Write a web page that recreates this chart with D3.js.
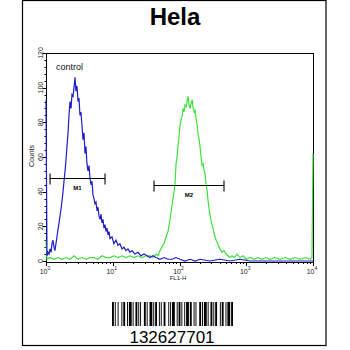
<!DOCTYPE html>
<html>
<head>
<meta charset="utf-8">
<script src="https://cdn.jsdelivr.net/npm/d3@7/dist/d3.min.js"></script>
<style>
  html, body { margin: 0; padding: 0; background: #fff; }
  svg { display: block; font-family: Arial, "Liberation Sans", sans-serif; }
</style>
</head>
<body>
<svg id="chart" width="350" height="350"></svg>
<script>
// Flow cytometry histogram, FL1-H (log scale) vs event counts.
const title = "Hela";
const xLabel = "FL1-H";
const yLabel = "Counts";
const sampleCode = "132627701";

// Control sample (blue): FL1-H value, counts
const controlFL1 = [1.00,1.035,1.07,1.11,1.15,1.19,1.23,1.27,1.32,1.36,1.41,1.46,1.51,1.57,1.62,1.68,1.74,1.80,1.86,1.93,1.99,2.06,2.14,2.21,2.29,2.37,2.45,2.54,2.63,2.72,2.81,2.91,3.02,3.12,3.23,3.34,3.46,3.58,3.71,3.84,3.97,4.11,4.26,4.41,4.56,4.72,4.89,5.06,5.24,5.42,5.61,5.81,6.01,6.22,6.44,6.67,6.90,7.14,7.39,7.66,7.92,8.20,8.49,8.79,9.10,9.75,10.4,11.2,12.0,12.8,13.8,14.7,15.8,16.9,18.1,19.4,21.5,23.9,26.5,29.4,32.6,36.1,40.1,44.5,51.0,58.6,67.3,77.2,88.7,102,121,144,171,203,286,404,571,806,1140,2270,4520,10000];
const controlCounts = [93,3,5,4,7,5,10,12,8,6,10,14,18,22,26,30,35,40,46,52,58,66,74,84,92,88,96,95,100,106,98,101,92,94,84,86,78,70,74,62,66,56,52,55,48,44,46,38,36,33,34,29,31,26,24,27,22,24,19,21,17,19,15,17,13,14,10,12,9,10,7,8,6,7,5,6,4,5,3,4,3,2,3,2,1,2,1,1,2,1,0,1,0,1,0,1,0,1,0,0,0,0];

// Antibody-stained sample (green): FL1-H value, counts
const stainedFL1 = [1.00,1.035,1.15,1.32,1.51,1.74,1.99,2.29,2.63,3.02,3.46,3.97,4.56,5.24,6.01,6.90,7.92,9.10,10.4,12.0,13.8,15.8,18.1,20.8,23.9,27.4,31.4,36.1,40.1,44.5,47.6,51.0,54.6,58.6,62.8,67.3,72.1,77.2,82.8,85.7,88.7,91.9,95.2,98.6,102,106,110,113,117,121,126,130,134,139,144,149,155,160,166,171,178,184,190,197,203,211,218,226,234,242,251,260,269,278,286,297,307,318,330,341,353,366,379,392,404,434,464,497,533,571,611,657,729,806,895,1000,1140,1300,1490,1710,1970,2270,2690,3210,3820,4520,5400,6420,7640,9100,9660,10000];
const stainedCounts = [12,1,2,1,2,1,2,1,3,1,2,1,2,2,1,3,2,2,3,2,3,2,3,2,3,2,3,3,2,4,3,6,8,10,14,17,24,32,40,45,56,60,67,72,78,82,84,88,86,90,89,92,95,90,88,91,93,88,86,87,82,78,73,70,66,60,55,56,52,50,44,40,34,30,27,23,21,19,16,14,12,11,9,8,7,5,6,4,3,2,3,2,4,2,3,1,2,1,2,1,2,1,2,1,2,1,2,1,2,1,2,62];

// Marker gates: name, FL1-H start, FL1-H end, count level
const markerNames = ["M1", "M2"];
const markerStart = [1.15, 41.5];
const markerEnd = [7.66, 464];
const markerLevel = [48, 44];

const yTicks = [0, 20, 40, 60, 80, 100, 120];
const xTickExponents = [0, 1, 2, 3, 4];
const sampleNote = "control";

// Barcode bar/space widths in modules, alternating bar, space
const barcodeModules = [2,1,1,2,1,3,1,1,2,2,1,1,3,1,1,2,2,1,1,1,1,3,2,1,1,2,3,1,1,1,2,2,1,1,1,2,2,3,1,1,1,1,3,2,1,1,2,1,1,2,1,1,3,1,2,2,1,1,1,3,2,1,1,1,3,1,1,2,2,1,1,1,2,3,1,1,2,2,1,1,3,1,2];

const svg = d3.select("#chart");

// Outer frame
svg.append("rect")
  .attr("x", 22.5).attr("y", 0.5).attr("width", 303.5).attr("height", 345)
  .attr("fill", "none").attr("stroke", "#000").attr("stroke-width", 1.2);

svg.append("text")
  .attr("x", 175).attr("y", 25)
  .attr("text-anchor", "middle")
  .attr("font-size", 24).attr("font-weight", "bold")
  .text(title);

const plot = { left: 46, right: 313, top: 53, bottom: 261 };

const x = d3.scaleLog().domain([1, 10000]).range([plot.left, plot.right]);
const y = d3.scaleLinear().domain([0, 120]).range([plot.bottom, plot.top]);

const g = svg.append("g");

// Plot box
g.append("rect")
  .attr("x", plot.left + 0.5).attr("y", plot.top + 0.5)
  .attr("width", plot.right - plot.left).attr("height", plot.bottom - plot.top + 1)
  .attr("fill", "none").attr("stroke", "#000").attr("stroke-width", 1);

// Y axis: major ticks every 20, minor every 4
const yMinor = d3.range(0, 121, 4);
g.selectAll(".ymin").data(yMinor).join("line")
  .attr("x1", plot.left + 0.5).attr("x2", d => plot.left + 0.5 - (d % 20 === 0 ? 4 : 2))
  .attr("y1", d => Math.round(y(d)) + 0.5).attr("y2", d => Math.round(y(d)) + 0.5)
  .attr("stroke", "#000").attr("stroke-width", 1);

g.selectAll(".ylab").data(yTicks).join("text")
  .attr("transform", d => `translate(${plot.left - 3},${y(d)}) rotate(-90)`)
  .attr("text-anchor", "middle")
  .attr("font-size", 7)
  .attr("fill", "#222")
  .text(d => d);

svg.append("text")
  .attr("transform", `translate(34,156) rotate(-90)`)
  .attr("text-anchor", "middle")
  .attr("font-size", 7)
  .attr("fill", "#222")
  .text(yLabel);

// X axis: log decades with minor ticks
const xMinor = [];
for (let e = 0; e < 4; e++) for (let m = 1; m < 10; m++) xMinor.push(m * Math.pow(10, e));
xMinor.push(10000);
g.selectAll(".xmin").data(xMinor).join("line")
  .attr("x1", d => Math.round(x(d)) + 0.5).attr("x2", d => Math.round(x(d)) + 0.5)
  .attr("y1", plot.bottom + 1).attr("y2", d => plot.bottom + 1 + (Math.log10(d) % 1 === 0 ? 4 : 2))
  .attr("stroke", "#000").attr("stroke-width", 1);

const xl = g.selectAll(".xlab").data(xTickExponents).join("text")
  .attr("x", d => x(Math.pow(10, d)) - 1)
  .attr("y", 274)
  .attr("text-anchor", "middle")
  .attr("font-size", 7)
  .attr("fill", "#222");
xl.append("tspan").text("10");
xl.append("tspan").attr("font-size", 5).attr("dy", -4).text(d => d);

svg.append("text")
  .attr("x", 178).attr("y", 280)
  .attr("text-anchor", "middle")
  .attr("font-size", 6)
  .attr("fill", "#222")
  .text(xLabel);

// Histograms
const line = d3.line().x(d => x(d[0])).y(d => y(d[1]));
g.append("path")
  .datum(d3.zip(stainedFL1, stainedCounts))
  .attr("d", line)
  .attr("fill", "none").attr("stroke", "#3ee03a").attr("stroke-width", 1.2);
g.append("path")
  .datum(d3.zip(controlFL1, controlCounts))
  .attr("d", line)
  .attr("fill", "none").attr("stroke", "#1d1dc4").attr("stroke-width", 1.2);

g.append("text")
  .attr("x", 56).attr("y", 70)
  .attr("font-size", 9)
  .attr("fill", "#111")
  .text(sampleNote);

// Marker gates
markerNames.forEach((name, i) => {
  const x0 = x(markerStart[i]), x1 = x(markerEnd[i]), yy = Math.round(y(markerLevel[i])) + 0.5;
  const mg = g.append("g").attr("stroke", "#000").attr("stroke-width", 1.1);
  mg.append("line").attr("x1", x0).attr("x2", x1).attr("y1", yy).attr("y2", yy);
  mg.append("line").attr("x1", x0).attr("x2", x0).attr("y1", yy - 5).attr("y2", yy + 6);
  mg.append("line").attr("x1", x1).attr("x2", x1).attr("y1", yy - 5).attr("y2", yy + 6);
  g.append("text")
    .attr("x", (x0 + x1) / 2).attr("y", yy + 11)
    .attr("text-anchor", "middle")
    .attr("font-size", 6).attr("font-weight", "bold")
    .text(name);
});

// Barcode
const totalModules = d3.sum(barcodeModules);
const bx = d3.scaleLinear().domain([0, totalModules]).range([112, 233]);
let pos = 0;
const bars = [];
barcodeModules.forEach((w, i) => {
  if (i % 2 === 0) bars.push([pos, w]);
  pos += w;
});
svg.append("g").selectAll("rect").data(bars).join("rect")
  .attr("x", d => bx(d[0])).attr("width", d => bx(d[0] + d[1]) - bx(d[0]))
  .attr("y", 302).attr("height", 24)
  .attr("fill", "#000");

svg.append("text")
  .attr("x", 172).attr("y", 343)
  .attr("text-anchor", "middle")
  .attr("font-size", 17)
  .attr("fill", "#000")
  .text(sampleCode);
</script>
</body>
</html>
